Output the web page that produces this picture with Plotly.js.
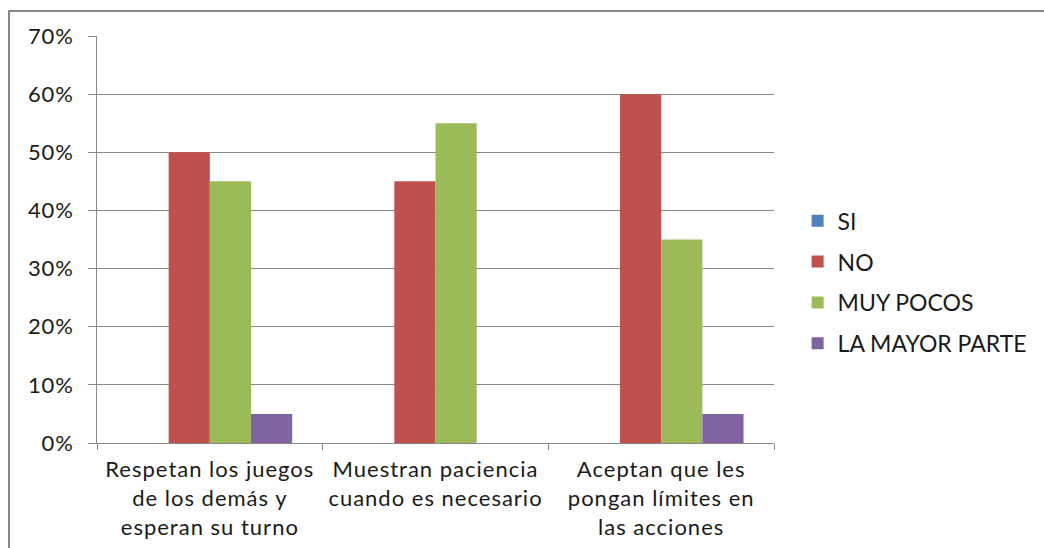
<!DOCTYPE html>
<html>
<head>
<meta charset="utf-8">
<script src="https://cdn.plot.ly/plotly-3.0.1.min.js"></script>
<style>
html,body{margin:0;padding:0;background:#fff;}
#wrap{position:relative;width:1044px;height:548px;overflow:hidden;}
#frame{position:absolute;left:8px;top:10px;width:1100px;height:600px;border:2px solid #888;box-sizing:border-box;pointer-events:none;}
#chart{position:absolute;left:0;top:0;width:1044px;height:548px;}
#chart .xtick text{letter-spacing:1px;}
#chart .ytick text{letter-spacing:0.8px;}
</style>
</head>
<body>
<div id="wrap">
<div id="chart"></div>
<div id="frame"></div>
</div>
<script>
var categories = [
  "Respetan los juegos<br>de los demás y<br>esperan su turno",
  "Muestran paciencia<br>cuando es necesario",
  "Aceptan que les<br>pongan límites en<br>las acciones"
];
var seriesNames = ["SI", "NO", "MUY POCOS", "LA MAYOR PARTE"];
var siValues = [0, 0, 0];
var noValues = [0.50, 0.45, 0.60];
var muyPocosValues = [0.45, 0.55, 0.35];
var laMayorParteValues = [0.05, 0, 0.05];
var yTickValues = [0, 0.1, 0.2, 0.3, 0.4, 0.5, 0.6, 0.7];
var yTickLabels = ["0%", "10%", "20%", "30%", "40%", "50%", "60%", "70%"];

var colors = ["#4F81BD", "#C0504D", "#9BBB59", "#8064A2"];
var allValues = [siValues, noValues, muyPocosValues, laMayorParteValues];

var traces = allValues.map(function (vals, i) {
  return {
    type: "bar",
    name: seriesNames[i],
    x: categories,
    y: vals,
    marker: {color: colors[i]},
    legendgroup: "g" + i,
    hoverinfo: "none"
  };
});

var font = {family: "Lato, 'Open Sans', sans-serif", size: 22, color: "#1a1a1a"};

var layout = {
  width: 1044,
  height: 548,
  margin: {l: 97, r: 270, t: 36, b: 105, autoexpand: false},
  paper_bgcolor: "#fff",
  plot_bgcolor: "#fff",
  font: font,
  barmode: "group",
  bargap: 0.27,
  bargroupgap: 0,
  showlegend: true,
  legend: {
    xref: "container", yref: "container",
    x: 0.764, xanchor: "left",
    y: 0.485, yanchor: "middle",
    traceorder: "grouped",
    tracegroupgap: 8,
    font: {family: font.family, size: 23, color: "#1a1a1a"},
    itemwidth: 30
  },
  xaxis: {
    type: "category",
    showgrid: false,
    showline: true,
    linecolor: "#888",
    linewidth: 1,
    ticks: "outside",
    tickson: "boundaries",
    ticklen: 6,
    tickcolor: "#888",
    ticklabelstandoff: 7,
    tickfont: font,
    fixedrange: true
  },
  yaxis: {
    range: [0, 0.7],
    tickvals: yTickValues,
    ticktext: yTickLabels,
    showgrid: true,
    gridcolor: "#888",
    gridwidth: 1,
    showline: true,
    linecolor: "#888",
    linewidth: 1,
    ticks: "outside",
    ticklen: 8,
    tickcolor: "#888",
    ticklabelstandoff: 10,
    zeroline: false,
    tickfont: font,
    fixedrange: true
  }
};

Plotly.newPlot("chart", traces, layout, {displayModeBar: false, staticPlot: true});
</script>
</body>
</html>
